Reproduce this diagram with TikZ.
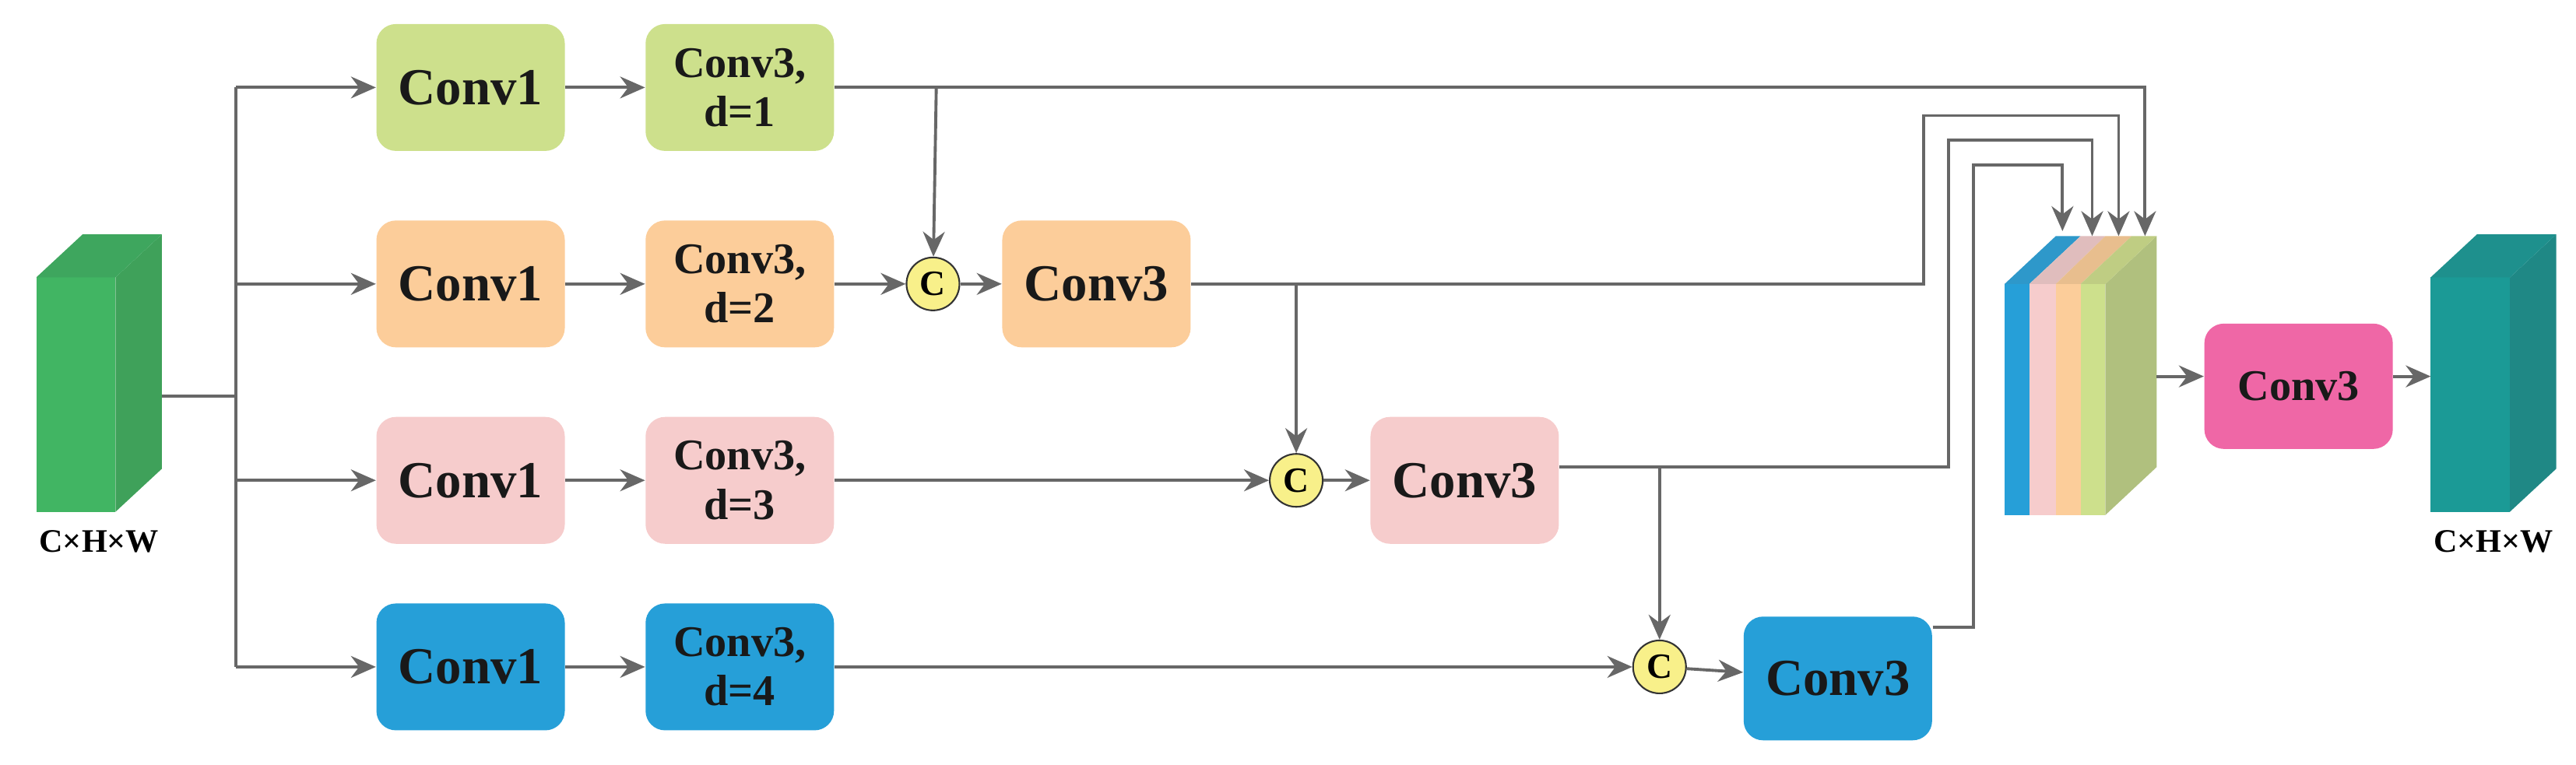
\documentclass[tikz,border=0pt]{standalone}
\usepackage{fontspec}
\setmainfont{Liberation Serif}
\usetikzlibrary{arrows.meta}
\definecolor{lgreen}{HTML}{CDE08C}
\definecolor{lorange}{HTML}{FCCD9A}
\definecolor{lpink}{HTML}{F6CCCC}
\definecolor{lblue}{HTML}{269FD8}
\definecolor{magn}{HTML}{EF67A6}
\definecolor{cyel}{HTML}{F8F08A}
\definecolor{lgrey}{HTML}{676767}
\definecolor{olive}{HTML}{B0C07E}
\definecolor{gA}{HTML}{41B563}\definecolor{gB}{HTML}{3FA15A}\definecolor{gC}{HTML}{3EA65E}
\definecolor{sB}{HTML}{2E98CA}\definecolor{sP}{HTML}{E0BDBD}\definecolor{sO}{HTML}{E8BE8E}\definecolor{sG}{HTML}{BFCD83}
\definecolor{tA}{HTML}{1B9A96}\definecolor{tB}{HTML}{1F8885}\definecolor{tC}{HTML}{1E908D}
\tikzset{
 blk/.style={rounded corners=0.25cm, minimum width=2.42cm, minimum height=1.63cm, inner sep=0pt, align=center, font=\bfseries\fontsize{19}{19}\selectfont, text=black!90},
 blkd/.style={blk, font=\bfseries\fontsize{16}{18}\selectfont},
 cat/.style={circle, draw=black!80, line width=0.6pt, fill=cyel, minimum size=0.68cm, inner sep=0pt, font=\bfseries\fontsize{13}{13}\selectfont},
 ln/.style={draw=lgrey, line width=1.1pt},
 ar/.style={ln, -{Stealth[length=0.32cm,width=0.28cm]}},
 lab/.style={font=\bfseries\fontsize{12}{12}\selectfont}
}
\begin{document}
\begin{tikzpicture}[x=0.02121cm,y=-0.02121cm]
\useasboundingbox (0,0) rectangle (1560,463.4);
% input cube
\fill[gA] (22,168) rectangle (70,310);
\fill[gB] (70,168) -- (98,142) -- (98,284) -- (70,310) -- cycle;
\fill[gC] (22,168) -- (50,142) -- (98,142) -- (70,168) -- cycle;
\node[lab] (inlab) at (60,328) {C×H×W};
\coordinate (inout) at (98,240);
\coordinate (tr) at (143,240);
% column of boxes
\node[blk, fill=lgreen] (a1) at (285,53) {Conv1};
\node[blk, fill=lorange] (b1) at (285,172) {Conv1};
\node[blk, fill=lpink] (c1) at (285,291) {Conv1};
\node[blk, fill=lblue] (d1) at (285,404) {Conv1};
\node[blkd, fill=lgreen] (a2) at (448,53) {Conv3,\\d=1};
\node[blkd, fill=lorange] (b2) at (448,172) {Conv3,\\d=2};
\node[blkd, fill=lpink] (c2) at (448,291) {Conv3,\\d=3};
\node[blkd, fill=lblue] (d2) at (448,404) {Conv3,\\d=4};
\node[cat] (cb) at (565,172) {C};
\node[cat] (cc) at (785,291) {C};
\node[cat] (cd) at (1005,404) {C};
\node[blk, fill=lorange] (b3) at (664,172) {Conv3};
\node[blk, fill=lpink] (c3) at (887,291) {Conv3};
\node[blk, fill=lblue, minimum height=1.59cm] (d3) at (1113,411) {Conv3};
% stack
\fill[lblue] (1214,172) rectangle (1229,312);
\fill[lpink] (1229,172) rectangle (1245,312);
\fill[lorange] (1245,172) rectangle (1260,312);
\fill[lgreen] (1260,172) rectangle (1275,312);
\fill[olive] (1275,172) -- (1306,143) -- (1306,283) -- (1275,312) -- cycle;
\fill[sB] (1214,172) -- (1245,143) -- (1260,143) -- (1229,172) -- cycle;
\fill[sP] (1229,172) -- (1260,143) -- (1275,143) -- (1245,172) -- cycle;
\fill[sO] (1245,172) -- (1275,143) -- (1291,143) -- (1260,172) -- cycle;
\fill[sG] (1260,172) -- (1291,143) -- (1306,143) -- (1275,172) -- cycle;
\coordinate (s4) at (1249,140);
\coordinate (s3) at (1267,143);
\coordinate (s2) at (1283,143);
\coordinate (s1) at (1299,143);
\coordinate (sout) at (1306,228);
\node[blk, fill=magn, minimum height=1.61cm, font=\bfseries\fontsize{16}{16}\selectfont] (m) at (1392,234) {Conv3};
% output cube
\fill[tA] (1472,168) rectangle (1520,310);
\fill[tB] (1520,168) -- (1548,142) -- (1548,284) -- (1520,310) -- cycle;
\fill[tC] (1472,168) -- (1500,142) -- (1548,142) -- (1520,168) -- cycle;
\coordinate (outin) at (1472,228);
\node[lab] (outlab) at (1510,328) {C×H×W};
% connectors
\draw[ln] (inout) -- (tr);
\draw[ln] (143,53) -- (143,404);
\draw[ar] (143,53) -- (a1);
\draw[ar] (143,172) -- (b1);
\draw[ar] (143,291) -- (c1);
\draw[ar] (143,404) -- (d1);
\draw[ar] (a1) -- (a2);
\draw[ar] (b1) -- (b2);
\draw[ar] (c1) -- (c2);
\draw[ar] (d1) -- (d2);
\draw[ar] (a2.east) -- (1299,53) -- (s1);
\draw[ar] (567,53) -- (cb);
\draw[ar] (b2) -- (cb);
\draw[ar] (cb) -- (b3);
\draw[ar] (b3.east) -- (785,172) -- (cc);
\draw[ar] (b3.east) -- (1165,172) -- (1165,70) -- (1283,70) -- (s2);
\draw[ar] (c2) -- (cc);
\draw[ar] (cc) -- (c3);
\draw[ar] (c3.east) ++(0,-8) -- (1005,283) -- (cd);
\draw[ar] (c3.east) ++(0,-8) -- (1180,283) -- (1180,85) -- (1267,85) -- (s3);
\draw[ar] (d2) -- (cd);
\draw[ar] (cd) -- (d3);
\draw[ar] (d3.east) ++(0,-31) -- (1195,380) -- (1195,100) -- (1249,100) -- (s4);
\draw[ar] (sout) -- (m.west |- sout);
\draw[ar] (m.east |- sout) -- (outin);
\end{tikzpicture}
\end{document}
